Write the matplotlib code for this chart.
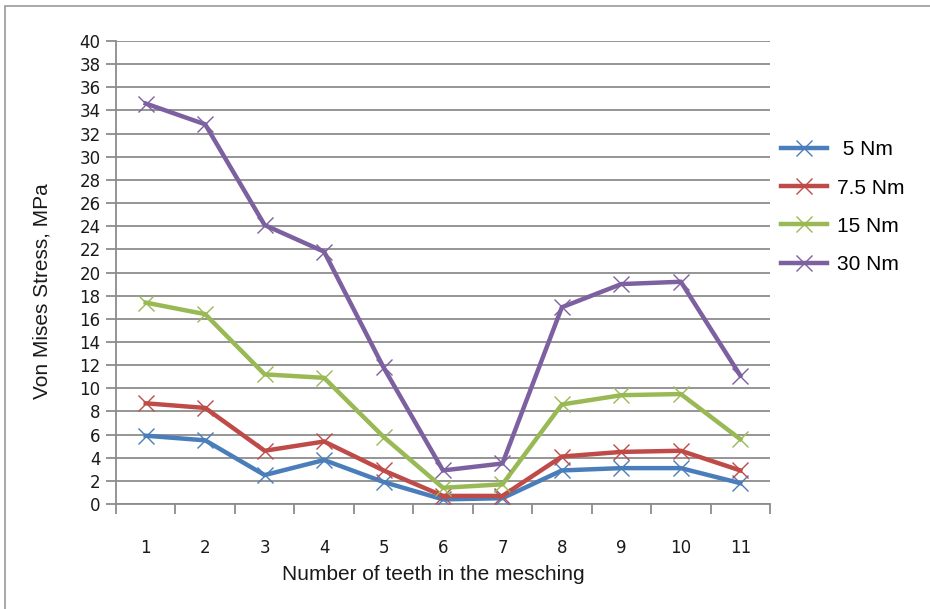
import matplotlib.pyplot as plt
from matplotlib.patches import Rectangle

TICK_FONT_SIZE = 12
AXIS_FONT_SIZE = 15
LEGEND_FONT_SIZE = 15

plt.rcParams.update({
    'font.family': ['Liberation Sans', 'DejaVu Sans'],
})

teeth = [1, 2, 3, 4, 5, 6, 7, 8, 9, 10, 11]
stress_5 = [5.9, 5.5, 2.5, 3.8, 1.9, 0.4, 0.5, 2.9, 3.1, 3.1, 1.8]
stress_7_5 = [8.7, 8.3, 4.6, 5.4, 2.9, 0.7, 0.7, 4.1, 4.5, 4.6, 2.9]
stress_15 = [17.4, 16.4, 11.2, 10.9, 5.8, 1.4, 1.7, 8.6, 9.4, 9.5, 5.6]
stress_30 = [34.6, 32.8, 24.1, 21.8, 11.8, 2.9, 3.5, 17.0, 19.0, 19.2, 11.1]

series = [
    (' 5 Nm', stress_5, '#4a7ebb'),
    ('7.5 Nm', stress_7_5, '#be4b48'),
    ('15 Nm', stress_15, '#98b954'),
    ('30 Nm', stress_30, '#7d60a0'),
]

W, H = 930, 609
fig = plt.figure(figsize=(W / 100, H / 100), dpi=100)
ax = fig.add_axes([116 / W, 1 - 504 / H, (770 - 116) / W, (504 - 41) / H])

# outer chart frame (cut off on the right and bottom)
fig.patches.append(Rectangle((5 / W, -0.05), 1.0, 1 - 6 / H + 0.05,
                             transform=fig.transFigure, fill=False,
                             edgecolor='#9a9a9a', lw=1.2))

for label, vals, color in series:
    ax.plot(teeth, vals, color=color, lw=3.2, solid_joinstyle='miter',
            marker='x', markersize=11, markeredgewidth=1.0,
            markeredgecolor=color, label=label, zorder=3)

ax.set_xlim(0.5, 11.5)
ax.set_ylim(0, 40)
ax.set_yticks(range(0, 41, 2))
ax.grid(axis='y', color='#8c8c8c', lw=1.3, zorder=0)
ax.set_axisbelow(True)

# category boundaries carry the tick marks, labels sit at the centres
ax.set_xticks([i + 0.5 for i in range(0, 12)])
ax.set_xticklabels([])
ax.set_xticks(teeth, minor=True)
ax.set_xticklabels([str(t) for t in teeth], minor=True, family='DejaVu Sans')
ax.tick_params(axis='x', which='major', length=7, width=1.3, color='#8c8c8c', direction='out')
ax.tick_params(axis='x', which='minor', length=0, pad=25, labelsize=TICK_FONT_SIZE, labelcolor='#1a1a1a')
ax.tick_params(axis='y', length=7, width=1.3, color='#8c8c8c', direction='out',
               labelsize=TICK_FONT_SIZE, labelcolor='#1a1a1a', pad=4)
for t in ax.get_yticklabels():
    t.set_family('DejaVu Sans')

for side in ['top', 'right']:
    ax.spines[side].set_visible(False)
for side in ['left', 'bottom']:
    ax.spines[side].set_color('#8c8c8c')
    ax.spines[side].set_linewidth(1.3)

fig.text(433 / W, 1 - 575 / H, 'Number of teeth in the mesching',
         ha='center', va='center', fontsize=AXIS_FONT_SIZE, color='#1a1a1a')
fig.text(42 / W, 1 - 291 / H, 'Von Mises Stress, MPa', rotation=90,
         ha='center', va='center', fontsize=AXIS_FONT_SIZE, color='#1a1a1a')

fig.legend(loc='upper left', bbox_to_anchor=(771 / W, 1 - 130 / H),
           frameon=False, fontsize=LEGEND_FONT_SIZE, handlelength=2.2,
           labelspacing=0.92, handletextpad=0.45, borderpad=0)

plt.savefig('out.png', dpi=100)
